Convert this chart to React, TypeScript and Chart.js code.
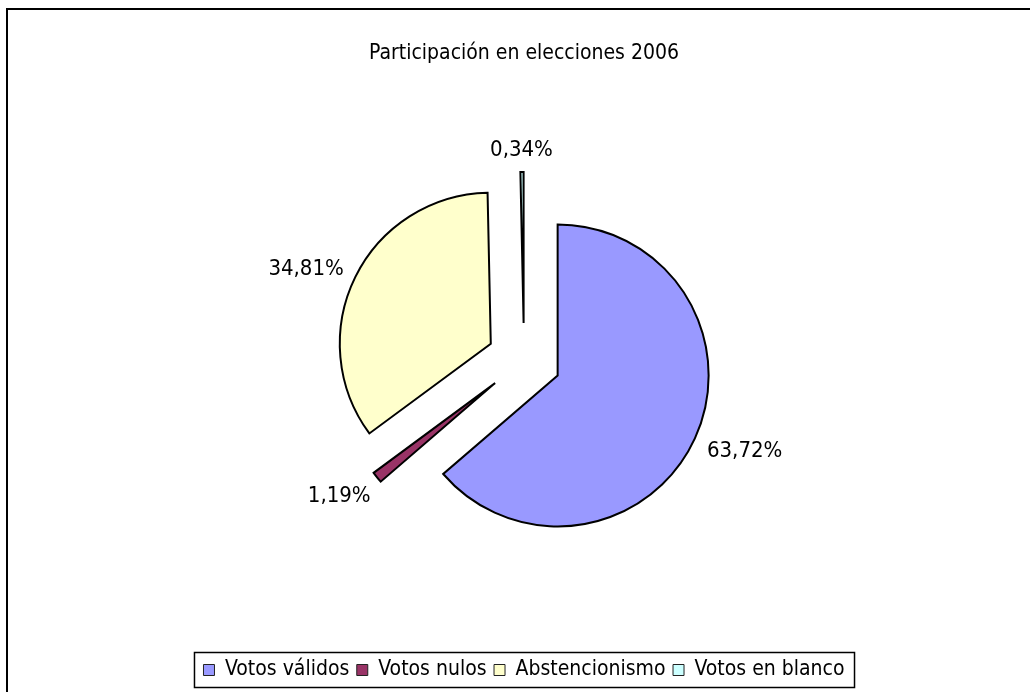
import React, { useEffect, useRef } from "react";
import { Chart, registerables } from "chart.js";

Chart.register(...registerables);

const categories = ["Votos válidos", "Votos nulos", "Abstencionismo", "Votos en blanco"];
const values = [63.72, 1.19, 34.81, 0.34];
const sliceColors = ["#9999FF", "#993366", "#FFFFCC", "#CCFFFF"];
const titleText = "Participación en elecciones 2006";

const FONT = '"DejaVu Sans Condensed", "DejaVu Sans", sans-serif';
const EXPLODE = 37;
const RADIUS = 151;
const LABEL_GAP = 17;
const LABEL_HALF_H = 8;
const LABEL_SHIFT_Y = 3;

const fmt = (v: number) => v.toFixed(2).replace(".", ",") + "%";

const framePlugin = {
  id: "frame",
  beforeDraw(chart: any) {
    const ctx = chart.ctx;
    ctx.save();
    ctx.fillStyle = "#ffffff";
    ctx.fillRect(0, 0, chart.width, chart.height);
    ctx.strokeStyle = "#000000";
    ctx.lineWidth = 2;
    ctx.strokeRect(7, 9, 1100, 800);
    ctx.restore();
  },
};

// Draw every arc element of the pie pushed out along its bisector (exploded pie)
const explodePlugin = {
  id: "explode",
  beforeDatasetDraw(chart: any, args: any) {
    const ctx = chart.ctx;
    args.meta.data.forEach((arc: any) => {
      const mid = (arc.startAngle + arc.endAngle) / 2;
      ctx.save();
      ctx.translate(Math.cos(mid) * EXPLODE, Math.sin(mid) * EXPLODE);
      arc.draw(ctx);
      ctx.restore();
    });
    return false;
  },
};

const labelPlugin = {
  id: "sliceLabels",
  afterDatasetsDraw(chart: any) {
    const ctx = chart.ctx;
    const meta = chart.getDatasetMeta(0);
    ctx.save();
    ctx.font = `22px ${FONT}`;
    ctx.fillStyle = "#000000";
    ctx.textAlign = "center";
    ctx.textBaseline = "middle";
    meta.data.forEach((arc: any, i: number) => {
      const { x, y, startAngle, endAngle, outerRadius } = arc;
      const mid = (startAngle + endAngle) / 2;
      const dx = Math.cos(mid);
      const dy = Math.sin(mid);
      const text = fmt(values[i]);
      const w = ctx.measureText(text).width;
      const d = EXPLODE + outerRadius + LABEL_GAP;
      const px = x + dx * d + dx * (w / 2);
      const py = y + dy * d + dy * LABEL_HALF_H + LABEL_SHIFT_Y;
      ctx.fillText(text, px, py);
    });
    ctx.restore();
  },
};

const legendBoxPlugin = {
  id: "legendBox",
  afterDraw(chart: any) {
    const lg = chart.legend;
    if (!lg || !lg.legendHitBoxes || !lg.legendHitBoxes.length) return;
    const hb = lg.legendHitBoxes;
    let left = Infinity;
    let right = -Infinity;
    hb.forEach((b: any) => {
      left = Math.min(left, b.left);
      right = Math.max(right, b.left + b.width);
    });
    const cy = hb[0].top + hb[0].height / 2;
    const ctx = chart.ctx;
    ctx.save();
    ctx.strokeStyle = "#000000";
    ctx.lineWidth = 1.5;
    ctx.strokeRect(left - 9, cy - 17.5, right - left + 19, 35);
    ctx.restore();
  },
};

export default function App() {
  const canvasRef = useRef<HTMLCanvasElement | null>(null);

  useEffect(() => {
    const canvas = canvasRef.current;
    if (!canvas) return;
    Chart.defaults.color = "#000000";
    const defaultGen = (Chart as any).overrides.doughnut.plugins.legend.labels.generateLabels;
    const chart = new Chart(canvas, {
      type: "doughnut",
      data: {
        labels: categories,
        datasets: [
          {
            data: values,
            backgroundColor: sliceColors,
            borderColor: "#000000",
            borderWidth: 2,
            borderJoinStyle: "miter",
          } as any,
        ],
      },
      options: {
        animation: false,
        responsive: false,
        events: [],
        cutout: 0,
        radius: RADIUS,
        layout: { padding: { left: 18, right: 0, top: 0, bottom: 1.5 } },
        plugins: {
          title: {
            display: true,
            text: titleText,
            color: "#000000",
            font: { family: FONT, size: 21, weight: "normal" },
            padding: { top: 40.5, bottom: 2.3 },
          },
          legend: {
            display: true,
            position: "bottom",
            labels: {
              color: "#000000",
              font: { family: FONT, size: 21 },
              boxWidth: 11,
              boxHeight: 11,
              padding: 7.5,
              generateLabels: (ch: any) =>
                defaultGen(ch).map((l: any) => ({ ...l, lineWidth: 1, strokeStyle: "#222222" })),
            },
          },
          tooltip: { enabled: false },
        },
      } as any,
      plugins: [framePlugin, explodePlugin, labelPlugin, legendBoxPlugin],
    });
    return () => chart.destroy();
  }, []);

  return (
    <div style={{ position: "absolute", left: 0, top: 0, width: 1030, height: 692 }}>
      <canvas ref={canvasRef} width={1030} height={692} style={{ width: 1030, height: 692 }} />
    </div>
  );
}
